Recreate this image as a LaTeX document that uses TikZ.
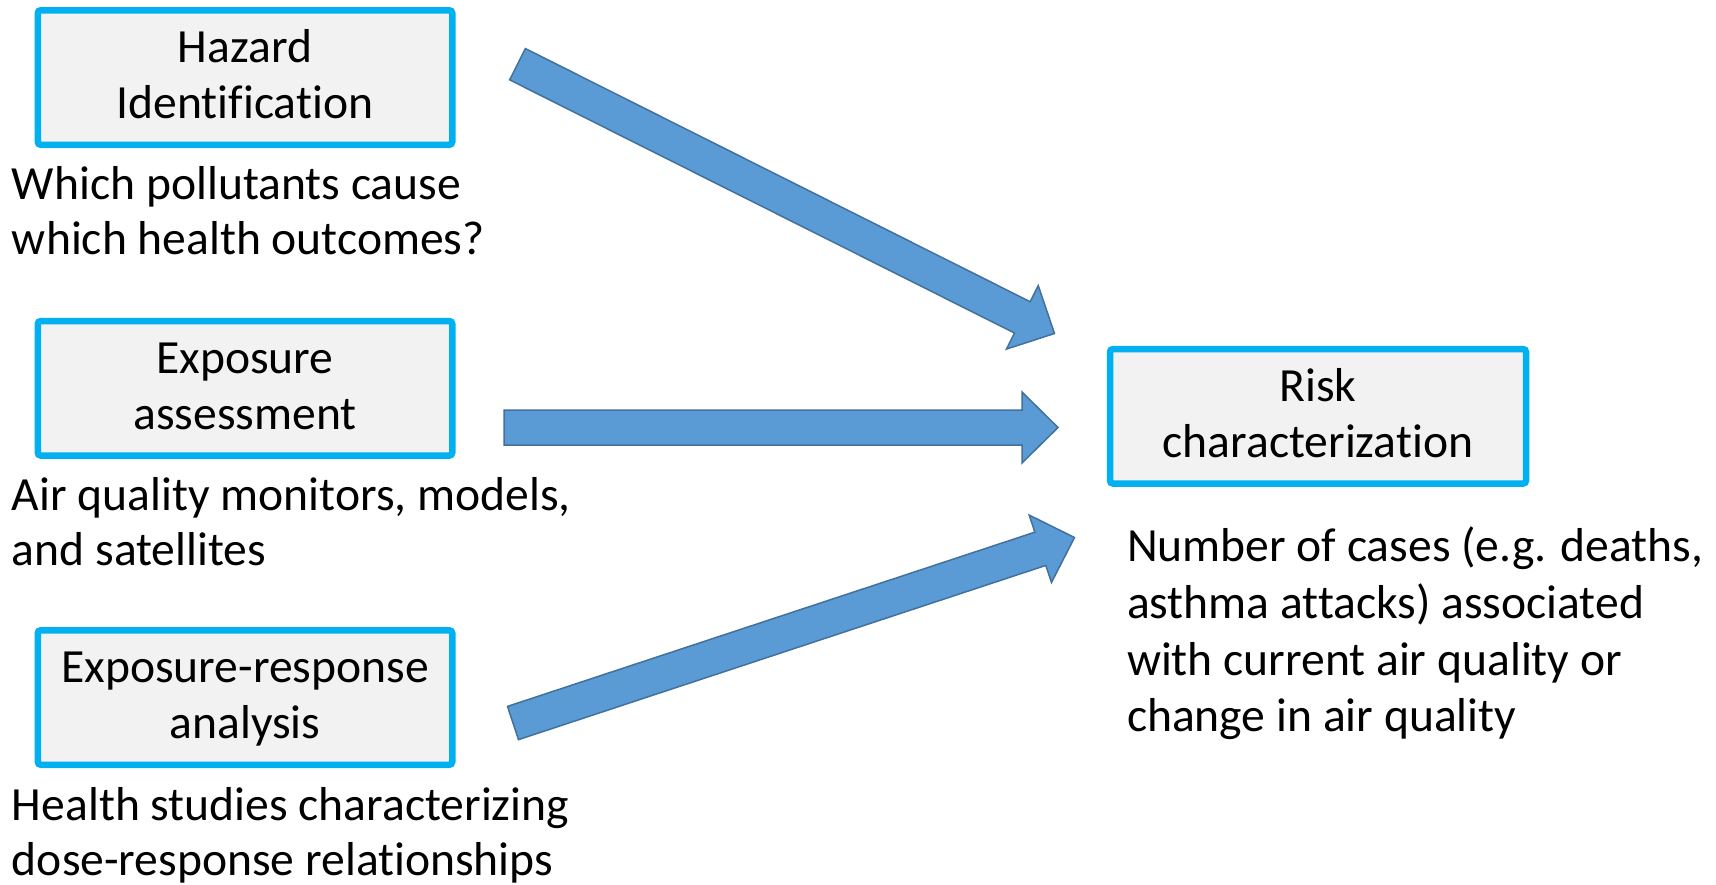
\documentclass[tikz,border=0pt]{standalone}
\usepackage{fontspec}
\setmainfont{Carlito}[Ligatures={NoCommon,NoRare,NoContextual}]
\usetikzlibrary{calc}
\definecolor{boxline}{HTML}{00B0F0}
\definecolor{boxfill}{HTML}{F2F2F2}
\definecolor{arrowfill}{HTML}{5B9BD5}
\definecolor{arrowline}{HTML}{41719C}
\newcommand\boxstrut{\rule[-14pt]{0pt}{54pt}}
\newcommand\capstrut{\rule{0pt}{40pt}}
\newcommand\blockarrow[2]{%
  \coordinate (#1b) at ($(#2)!36pt!(#1)$);
  \draw[blockarrowstyle] ($(#1)!17.5pt!90:(#2)$) -- ($(#1b)!17.5pt!90:(#2)$) -- ($(#1b)!35.5pt!90:(#2)$) -- (#2) -- ($(#1b)!35.5pt!-90:(#2)$) -- ($(#1b)!17.5pt!-90:(#2)$) -- ($(#1)!17.5pt!-90:(#2)$) -- cycle;
}
\begin{document}
\begin{tikzpicture}[x=1pt,y=-1pt,
  stagebox/.style={draw=boxline, fill=boxfill, line width=6.5pt, rounded corners=3pt,
    minimum width=414.5pt, minimum height=134.5pt, inner sep=0pt, outer sep=0pt,
    align=center, font=\fontsize{47.6}{56}\selectfont},
  caption/.style={anchor=north west, align=left, inner sep=0pt, outer sep=0pt,
    font=\fontsize{47.6}{55}\selectfont},
  blockarrowstyle/.style={fill=arrowfill, draw=arrowline, line width=1.5pt, line join=miter}]
\useasboundingbox (0,0) rectangle (1716,884);
\fill[white] (0,0) rectangle (1716,884);

\node[stagebox] (haz) at (245,77.5) {\boxstrut Hazard\\Identification\boxstrut};
\node[stagebox] (expo) at (245,388.3) {\boxstrut Exposure\\assessment\boxstrut};
\node[stagebox] (er) at (245,697.5) {\boxstrut Exposure-response\\analysis\boxstrut};
\node[stagebox, minimum width=416pt] (risk) at (1318,416.3) {\boxstrut Risk\\characterization\boxstrut};

\node[caption] (hazcap) at (12,159.3) {\capstrut Which pollutants cause\\which health outcomes?};
\node[caption] (expocap) at (12,470) {\capstrut Air quality monitors, models,\\and satellites};
\node[caption] (ercap) at (12,780) {\capstrut Health studies characterizing\\dose-response relationships};
\node[caption, font=\fontsize{47.6}{56.7}\selectfont] (riskcap) at (1127,521.7) {\capstrut Number of cases (e.g. deaths,\\asthma attacks) associated\\with current air quality or\\change in air quality};

\coordinate (a1s) at (517.5,64.2);
\coordinate (a1e) at (1054.5,333.5);
\coordinate (a2s) at (504,427.5);
\coordinate (a2e) at (1058,427.5);
\coordinate (a3s) at (513,723);
\coordinate (a3e) at (1074.5,537.5);
\blockarrow{a1s}{a1e}
\blockarrow{a2s}{a2e}
\blockarrow{a3s}{a3e}
\end{tikzpicture}
\end{document}
